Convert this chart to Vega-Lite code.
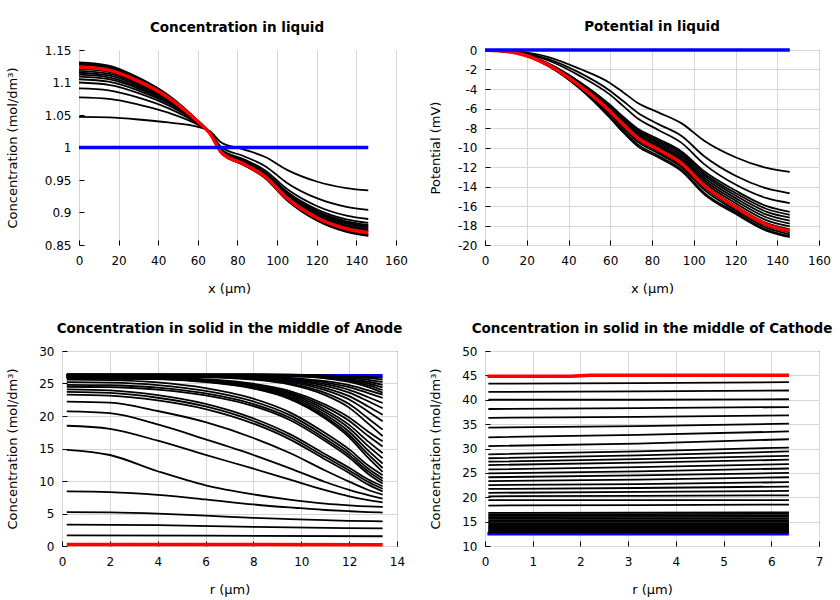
{
"$schema": "https://vega.github.io/schema/vega-lite/v6.json",
"padding": {"top": 19, "left": 6, "right": 5, "bottom": 5},
"background": "white",
"config": {
 "font": "DejaVu Sans",
 "view": {"stroke": "black", "strokeWidth": 1},
 "axis": {"domain": false, "grid": true, "gridColor": "#d6d6d6", "gridWidth": 1, "labelFont": "DejaVu Sans", "labelFontSize": 12, "labelColor": "black", "titleFont": "DejaVu Sans", "titleFontSize": 13, "titleFontWeight": "normal", "titleColor": "black", "tickColor": "black", "tickSize": -5, "tickWidth": 1, "labelPadding": 13, "labelFlush": false, "labelOverlap": false},
 "axisX": {"titlePadding": 16, "labelPadding": 15},
 "title": {"font": "DejaVu Sans", "fontSize": 13.5, "fontWeight": "bold", "color": "black", "offset": 10}
},
"datasets": {
"liq": [
{"c":1,"x":0,"y":1.047},{"c":1,"x":15,"y":1.0462},{"c":1,"x":30,"y":1.0431},{"c":1,"x":45,"y":1.0385},{"c":1,"x":60,"y":1.0318},{"c":1,"x":66,"y":1.0252},{"c":1,"x":72,"y":1.0073},{"c":1,"x":83,"y":0.9972},{"c":1,"x":94,"y":0.9853},{"c":1,"x":105,"y":0.9656},{"c":1,"x":120,"y":0.9477},{"c":1,"x":135,"y":0.9376},{"c":1,"x":146,"y":0.934},
{"c":2,"x":0,"y":1.077},{"c":2,"x":15,"y":1.0747},{"c":2,"x":30,"y":1.0661},{"c":2,"x":45,"y":1.0536},{"c":2,"x":60,"y":1.035},{"c":2,"x":66,"y":1.0237},{"c":2,"x":72,"y":1.0003},{"c":2,"x":83,"y":0.9869},{"c":2,"x":94,"y":0.9713},{"c":2,"x":105,"y":0.9455},{"c":2,"x":120,"y":0.922},{"c":2,"x":135,"y":0.9087},{"c":2,"x":146,"y":0.904},
{"c":3,"x":0,"y":1.091},{"c":3,"x":15,"y":1.088},{"c":3,"x":30,"y":1.0768},{"c":3,"x":45,"y":1.0606},{"c":3,"x":60,"y":1.0365},{"c":3,"x":66,"y":1.023},{"c":3,"x":72,"y":0.997},{"c":3,"x":83,"y":0.9821},{"c":3,"x":94,"y":0.9648},{"c":3,"x":105,"y":0.9361},{"c":3,"x":120,"y":0.91},{"c":3,"x":135,"y":0.8952},{"c":3,"x":146,"y":0.89},
{"c":4,"x":0,"y":1.1},{"c":4,"x":15,"y":1.0965},{"c":4,"x":30,"y":1.0838},{"c":4,"x":45,"y":1.0651},{"c":4,"x":60,"y":1.0375},{"c":4,"x":66,"y":1.0227},{"c":4,"x":72,"y":0.9955},{"c":4,"x":83,"y":0.9801},{"c":4,"x":94,"y":0.962},{"c":4,"x":105,"y":0.932},{"c":4,"x":120,"y":0.9049},{"c":4,"x":135,"y":0.8894},{"c":4,"x":146,"y":0.884},
{"c":5,"x":0,"y":1.105},{"c":5,"x":15,"y":1.1013},{"c":5,"x":30,"y":1.0876},{"c":5,"x":45,"y":1.0677},{"c":5,"x":60,"y":1.038},{"c":5,"x":66,"y":1.0225},{"c":5,"x":72,"y":0.9948},{"c":5,"x":83,"y":0.979},{"c":5,"x":94,"y":0.9606},{"c":5,"x":105,"y":0.93},{"c":5,"x":120,"y":0.9023},{"c":5,"x":135,"y":0.8865},{"c":5,"x":146,"y":0.881},
{"c":6,"x":0,"y":1.109},{"c":6,"x":15,"y":1.1051},{"c":6,"x":30,"y":1.0907},{"c":6,"x":45,"y":1.0697},{"c":6,"x":60,"y":1.0385},{"c":6,"x":66,"y":1.0224},{"c":6,"x":72,"y":0.9944},{"c":6,"x":83,"y":0.9784},{"c":6,"x":94,"y":0.9596},{"c":6,"x":105,"y":0.9287},{"c":6,"x":120,"y":0.9006},{"c":6,"x":135,"y":0.8846},{"c":6,"x":146,"y":0.879},
{"c":7,"x":0,"y":1.112},{"c":7,"x":15,"y":1.1079},{"c":7,"x":30,"y":1.093},{"c":7,"x":45,"y":1.0712},{"c":7,"x":60,"y":1.0388},{"c":7,"x":66,"y":1.0224},{"c":7,"x":72,"y":0.9939},{"c":7,"x":83,"y":0.9777},{"c":7,"x":94,"y":0.9587},{"c":7,"x":105,"y":0.9273},{"c":7,"x":120,"y":0.8989},{"c":7,"x":135,"y":0.8827},{"c":7,"x":146,"y":0.877},
{"c":8,"x":0,"y":1.115},{"c":8,"x":15,"y":1.1108},{"c":8,"x":30,"y":1.0953},{"c":8,"x":45,"y":1.0727},{"c":8,"x":60,"y":1.0391},{"c":8,"x":66,"y":1.0223},{"c":8,"x":72,"y":0.9934},{"c":8,"x":83,"y":0.977},{"c":8,"x":94,"y":0.9578},{"c":8,"x":105,"y":0.926},{"c":8,"x":120,"y":0.8972},{"c":8,"x":135,"y":0.8807},{"c":8,"x":146,"y":0.875},
{"c":9,"x":0,"y":1.118},{"c":9,"x":15,"y":1.1136},{"c":9,"x":30,"y":1.0976},{"c":9,"x":45,"y":1.0742},{"c":9,"x":60,"y":1.0394},{"c":9,"x":66,"y":1.0222},{"c":9,"x":72,"y":0.9929},{"c":9,"x":83,"y":0.9763},{"c":9,"x":94,"y":0.9568},{"c":9,"x":105,"y":0.9247},{"c":9,"x":120,"y":0.8955},{"c":9,"x":135,"y":0.8788},{"c":9,"x":146,"y":0.873},
{"c":10,"x":0,"y":1.121},{"c":10,"x":15,"y":1.1165},{"c":10,"x":30,"y":1.0999},{"c":10,"x":45,"y":1.0757},{"c":10,"x":60,"y":1.0397},{"c":10,"x":66,"y":1.0221},{"c":10,"x":72,"y":0.9925},{"c":10,"x":83,"y":0.9756},{"c":10,"x":94,"y":0.9559},{"c":10,"x":105,"y":0.9233},{"c":10,"x":120,"y":0.8937},{"c":10,"x":135,"y":0.8769},{"c":10,"x":146,"y":0.871},
{"c":11,"x":0,"y":1.127},{"c":11,"x":15,"y":1.1222},{"c":11,"x":30,"y":1.1045},{"c":11,"x":45,"y":1.0787},{"c":11,"x":60,"y":1.0404},{"c":11,"x":66,"y":1.0219},{"c":11,"x":72,"y":0.9915},{"c":11,"x":83,"y":0.9743},{"c":11,"x":94,"y":0.954},{"c":11,"x":105,"y":0.9206},{"c":11,"x":120,"y":0.8903},{"c":11,"x":135,"y":0.873},{"c":11,"x":146,"y":0.867},
{"c":12,"x":0,"y":1.129},{"c":12,"x":15,"y":1.1241},{"c":12,"x":30,"y":1.106},{"c":12,"x":45,"y":1.0797},{"c":12,"x":60,"y":1.0406},{"c":12,"x":66,"y":1.0218},{"c":12,"x":72,"y":0.9911},{"c":12,"x":83,"y":0.9736},{"c":12,"x":94,"y":0.9531},{"c":12,"x":105,"y":0.9193},{"c":12,"x":120,"y":0.8886},{"c":12,"x":135,"y":0.8711},{"c":12,"x":146,"y":0.865},
{"c":13,"x":0,"y":1.131},{"c":13,"x":15,"y":1.126},{"c":13,"x":30,"y":1.1076},{"c":13,"x":45,"y":1.0807},{"c":13,"x":60,"y":1.0408},{"c":13,"x":66,"y":1.0217},{"c":13,"x":72,"y":0.9908},{"c":13,"x":83,"y":0.9732},{"c":13,"x":94,"y":0.9526},{"c":13,"x":105,"y":0.9186},{"c":13,"x":120,"y":0.8877},{"c":13,"x":135,"y":0.8701},{"c":13,"x":146,"y":0.864},
{"c":"r","x":0,"y":1.1237},{"c":"r","x":15,"y":1.119},{"c":"r","x":30,"y":1.102},{"c":"r","x":45,"y":1.077},{"c":"r","x":60,"y":1.04},{"c":"r","x":66,"y":1.022},{"c":"r","x":72,"y":0.992},{"c":"r","x":83,"y":0.975},{"c":"r","x":94,"y":0.955},{"c":"r","x":105,"y":0.922},{"c":"r","x":120,"y":0.892},{"c":"r","x":135,"y":0.875},{"c":"r","x":146,"y":0.869},
{"c":"b","x":0,"y":1},{"c":"b","x":146,"y":1}
],
"pot": [
{"c":1,"x":0,"y":0},{"c":1,"x":15,"y":-0.15},{"c":1,"x":30,"y":-0.7},{"c":1,"x":45,"y":-1.9},{"c":1,"x":60,"y":-3.4},{"c":1,"x":66,"y":-4.3},{"c":1,"x":73,"y":-5.4},{"c":1,"x":83,"y":-6.4},{"c":1,"x":94,"y":-7.5},{"c":1,"x":105,"y":-9.3},{"c":1,"x":120,"y":-11.0},{"c":1,"x":135,"y":-12.1},{"c":1,"x":146,"y":-12.5},
{"c":2,"x":0,"y":0},{"c":2,"x":15,"y":-0.2},{"c":2,"x":30,"y":-0.9},{"c":2,"x":45,"y":-2.3},{"c":2,"x":60,"y":-4.2},{"c":2,"x":66,"y":-5.2},{"c":2,"x":73,"y":-6.4},{"c":2,"x":83,"y":-7.6},{"c":2,"x":94,"y":-8.8},{"c":2,"x":105,"y":-10.9},{"c":2,"x":120,"y":-12.9},{"c":2,"x":135,"y":-14.2},{"c":2,"x":146,"y":-14.7},
{"c":3,"x":0,"y":0},{"c":3,"x":15,"y":-0.22},{"c":3,"x":30,"y":-1.05},{"c":3,"x":45,"y":-2.6},{"c":3,"x":60,"y":-4.6},{"c":3,"x":66,"y":-5.7},{"c":3,"x":73,"y":-7.0},{"c":3,"x":83,"y":-8.2},{"c":3,"x":94,"y":-9.5},{"c":3,"x":105,"y":-11.7},{"c":3,"x":120,"y":-13.8},{"c":3,"x":135,"y":-15.2},{"c":3,"x":146,"y":-15.7},
{"c":4,"x":0,"y":0},{"c":4,"x":15,"y":-0.27},{"c":4,"x":30,"y":-1.34},{"c":4,"x":45,"y":-3.22},{"c":4,"x":60,"y":-5.64},{"c":4,"x":66,"y":-6.81},{"c":4,"x":73,"y":-8.05},{"c":4,"x":83,"y":-9.13},{"c":4,"x":94,"y":-10.38},{"c":4,"x":105,"y":-12.43},{"c":4,"x":120,"y":-14.41},{"c":4,"x":135,"y":-16.02},{"c":4,"x":146,"y":-16.6},
{"c":5,"x":0,"y":0},{"c":5,"x":15,"y":-0.27},{"c":5,"x":30,"y":-1.37},{"c":5,"x":45,"y":-3.28},{"c":5,"x":60,"y":-5.75},{"c":5,"x":66,"y":-6.93},{"c":5,"x":73,"y":-8.2},{"c":5,"x":83,"y":-9.3},{"c":5,"x":94,"y":-10.56},{"c":5,"x":105,"y":-12.66},{"c":5,"x":120,"y":-14.67},{"c":5,"x":135,"y":-16.31},{"c":5,"x":146,"y":-16.9},
{"c":6,"x":0,"y":0},{"c":6,"x":15,"y":-0.28},{"c":6,"x":30,"y":-1.39},{"c":6,"x":45,"y":-3.34},{"c":6,"x":60,"y":-5.85},{"c":6,"x":66,"y":-7.05},{"c":6,"x":73,"y":-8.34},{"c":6,"x":83,"y":-9.46},{"c":6,"x":94,"y":-10.75},{"c":6,"x":105,"y":-12.88},{"c":6,"x":120,"y":-14.93},{"c":6,"x":135,"y":-16.6},{"c":6,"x":146,"y":-17.2},
{"c":7,"x":0,"y":0},{"c":7,"x":15,"y":-0.28},{"c":7,"x":30,"y":-1.42},{"c":7,"x":45,"y":-3.4},{"c":7,"x":60,"y":-5.95},{"c":7,"x":66,"y":-7.18},{"c":7,"x":73,"y":-8.49},{"c":7,"x":83,"y":-9.63},{"c":7,"x":94,"y":-10.94},{"c":7,"x":105,"y":-13.11},{"c":7,"x":120,"y":-15.19},{"c":7,"x":135,"y":-16.89},{"c":7,"x":146,"y":-17.5},
{"c":8,"x":0,"y":0},{"c":8,"x":15,"y":-0.28},{"c":8,"x":30,"y":-1.44},{"c":8,"x":45,"y":-3.45},{"c":8,"x":60,"y":-6.05},{"c":8,"x":66,"y":-7.3},{"c":8,"x":73,"y":-8.63},{"c":8,"x":83,"y":-9.79},{"c":8,"x":94,"y":-11.13},{"c":8,"x":105,"y":-13.33},{"c":8,"x":120,"y":-15.45},{"c":8,"x":135,"y":-17.18},{"c":8,"x":146,"y":-17.8},
{"c":9,"x":0,"y":0},{"c":9,"x":15,"y":-0.29},{"c":9,"x":30,"y":-1.47},{"c":9,"x":45,"y":-3.51},{"c":9,"x":60,"y":-6.15},{"c":9,"x":66,"y":-7.42},{"c":9,"x":73,"y":-8.78},{"c":9,"x":83,"y":-9.96},{"c":9,"x":94,"y":-11.31},{"c":9,"x":105,"y":-13.56},{"c":9,"x":120,"y":-15.71},{"c":9,"x":135,"y":-17.47},{"c":9,"x":146,"y":-18.1},
{"c":10,"x":0,"y":0},{"c":10,"x":15,"y":-0.29},{"c":10,"x":30,"y":-1.49},{"c":10,"x":45,"y":-3.57},{"c":10,"x":60,"y":-6.26},{"c":10,"x":66,"y":-7.54},{"c":10,"x":73,"y":-8.92},{"c":10,"x":83,"y":-10.12},{"c":10,"x":94,"y":-11.5},{"c":10,"x":105,"y":-13.78},{"c":10,"x":120,"y":-15.97},{"c":10,"x":135,"y":-17.76},{"c":10,"x":146,"y":-18.4},
{"c":11,"x":0,"y":0},{"c":11,"x":15,"y":-0.3},{"c":11,"x":30,"y":-1.52},{"c":11,"x":45,"y":-3.68},{"c":11,"x":60,"y":-6.45},{"c":11,"x":66,"y":-7.75},{"c":11,"x":73,"y":-9.2},{"c":11,"x":83,"y":-10.4},{"c":11,"x":94,"y":-11.8},{"c":11,"x":105,"y":-14.1},{"c":11,"x":120,"y":-16.25},{"c":11,"x":135,"y":-18.05},{"c":11,"x":146,"y":-18.7},
{"c":12,"x":0,"y":0},{"c":12,"x":15,"y":-0.3},{"c":12,"x":30,"y":-1.55},{"c":12,"x":45,"y":-3.75},{"c":12,"x":60,"y":-6.6},{"c":12,"x":66,"y":-7.95},{"c":12,"x":73,"y":-9.4},{"c":12,"x":83,"y":-10.6},{"c":12,"x":94,"y":-12.0},{"c":12,"x":105,"y":-14.35},{"c":12,"x":120,"y":-16.45},{"c":12,"x":135,"y":-18.25},{"c":12,"x":146,"y":-18.9},
{"c":13,"x":0,"y":0},{"c":13,"x":15,"y":-0.31},{"c":13,"x":30,"y":-1.58},{"c":13,"x":45,"y":-3.82},{"c":13,"x":60,"y":-6.85},{"c":13,"x":66,"y":-8.2},{"c":13,"x":73,"y":-9.65},{"c":13,"x":83,"y":-10.85},{"c":13,"x":94,"y":-12.25},{"c":13,"x":105,"y":-14.65},{"c":13,"x":120,"y":-16.65},{"c":13,"x":135,"y":-18.45},{"c":13,"x":146,"y":-19.1},
{"c":14,"x":0,"y":0},{"c":14,"x":15,"y":-0.31},{"c":14,"x":30,"y":-1.6},{"c":14,"x":45,"y":-3.88},{"c":14,"x":60,"y":-7.0},{"c":14,"x":66,"y":-8.4},{"c":14,"x":73,"y":-9.85},{"c":14,"x":83,"y":-11.0},{"c":14,"x":94,"y":-12.4},{"c":14,"x":105,"y":-14.8},{"c":14,"x":120,"y":-16.8},{"c":14,"x":135,"y":-18.55},{"c":14,"x":146,"y":-19.2},
{"c":"r","x":0,"y":0},{"c":"r","x":15,"y":-0.3},{"c":"r","x":30,"y":-1.5},{"c":"r","x":45,"y":-3.6},{"c":"r","x":60,"y":-6.3},{"c":"r","x":66,"y":-7.6},{"c":"r","x":73,"y":-9.0},{"c":"r","x":83,"y":-10.2},{"c":"r","x":94,"y":-11.6},{"c":"r","x":105,"y":-13.9},{"c":"r","x":120,"y":-16.1},{"c":"r","x":135,"y":-17.9},{"c":"r","x":146,"y":-18.55},
{"c":"b","x":0,"y":0},{"c":"b","x":146,"y":0}
],
"ano": [
{"c":1,"x":0.2,"y":1.65},{"c":1,"x":6,"y":1.59},{"c":1,"x":13.4,"y":1.5},
{"c":2,"x":0.2,"y":3.3},{"c":2,"x":4,"y":3.2},{"c":2,"x":8,"y":2.93},{"c":2,"x":13.4,"y":2.7},
{"c":3,"x":0.2,"y":5.2},{"c":3,"x":2,"y":5.16},{"c":3,"x":4,"y":4.98},{"c":3,"x":6,"y":4.67},{"c":3,"x":8,"y":4.33},{"c":3,"x":9.5,"y":4.14},{"c":3,"x":11,"y":3.97},{"c":3,"x":12,"y":3.88},{"c":3,"x":13.4,"y":3.8},
{"c":4,"x":0.2,"y":8.4},{"c":4,"x":2,"y":8.3},{"c":4,"x":4,"y":7.88},{"c":4,"x":6,"y":7.17},{"c":4,"x":8,"y":6.39},{"c":4,"x":9.5,"y":5.93},{"c":4,"x":11,"y":5.54},{"c":4,"x":12,"y":5.35},{"c":4,"x":12.8,"y":5.22},{"c":4,"x":13.4,"y":5.15},
{"c":5,"x":0.2,"y":14.8},{"c":5,"x":2,"y":14.0},{"c":5,"x":4,"y":11.5},{"c":5,"x":6,"y":9.34},{"c":5,"x":8,"y":7.94},{"c":5,"x":9.5,"y":7.14},{"c":5,"x":11,"y":6.53},{"c":5,"x":12,"y":6.26},{"c":5,"x":12.8,"y":6.09},{"c":5,"x":13.4,"y":6.0},
{"c":6,"x":0.2,"y":18.5},{"c":6,"x":2,"y":18.03},{"c":6,"x":4,"y":16.2},{"c":6,"x":6,"y":14.02},{"c":6,"x":8,"y":11.89},{"c":6,"x":9.5,"y":10.24},{"c":6,"x":11,"y":8.59},{"c":6,"x":12,"y":7.64},{"c":6,"x":12.8,"y":7.05},{"c":6,"x":13.4,"y":6.7},
{"c":7,"x":0.2,"y":20.7},{"c":7,"x":2,"y":20.43},{"c":7,"x":4,"y":18.7},{"c":7,"x":6,"y":16.41},{"c":7,"x":8,"y":14.0},{"c":7,"x":9.5,"y":11.99},{"c":7,"x":11,"y":9.85},{"c":7,"x":12,"y":8.64},{"c":7,"x":12.8,"y":7.84},{"c":7,"x":13.4,"y":7.3},
{"c":8,"x":0.2,"y":22.2},{"c":8,"x":2,"y":22.06},{"c":8,"x":4,"y":20.77},{"c":8,"x":6,"y":19.05},{"c":8,"x":8,"y":16.62},{"c":8,"x":9.5,"y":14.34},{"c":8,"x":11,"y":11.62},{"c":8,"x":12,"y":9.9},{"c":8,"x":12.8,"y":8.62},{"c":8,"x":13.4,"y":7.9},
{"c":9,"x":0.2,"y":23.3},{"c":9,"x":2,"y":23.15},{"c":9,"x":4,"y":22.41},{"c":9,"x":6,"y":21.07},{"c":9,"x":8,"y":18.83},{"c":9,"x":9.5,"y":16.45},{"c":9,"x":11,"y":13.32},{"c":9,"x":12,"y":11.23},{"c":9,"x":12.8,"y":9.44},{"c":9,"x":13.4,"y":8.4},
{"c":10,"x":0.2,"y":23.7},{"c":10,"x":2,"y":23.55},{"c":10,"x":4,"y":22.81},{"c":10,"x":6,"y":21.47},{"c":10,"x":8,"y":19.23},{"c":10,"x":9.5,"y":16.85},{"c":10,"x":11,"y":13.72},{"c":10,"x":12,"y":11.63},{"c":10,"x":12.8,"y":9.84},{"c":10,"x":13.4,"y":8.8},
{"c":11,"x":0.2,"y":24.1},{"c":11,"x":2,"y":23.95},{"c":11,"x":4,"y":23.21},{"c":11,"x":6,"y":21.87},{"c":11,"x":8,"y":19.63},{"c":11,"x":9.5,"y":17.25},{"c":11,"x":11,"y":14.12},{"c":11,"x":12,"y":12.03},{"c":11,"x":12.8,"y":10.24},{"c":11,"x":13.4,"y":9.2},
{"c":12,"x":0.2,"y":24.5},{"c":12,"x":2,"y":24.43},{"c":12,"x":4,"y":24.05},{"c":12,"x":6,"y":23.16},{"c":12,"x":8,"y":21.52},{"c":12,"x":9.5,"y":19.43},{"c":12,"x":11,"y":16.16},{"c":12,"x":12,"y":13.62},{"c":12,"x":12.8,"y":11.09},{"c":12,"x":13.4,"y":9.6},
{"c":13,"x":0.2,"y":24.8},{"c":13,"x":2,"y":24.73},{"c":13,"x":4,"y":24.36},{"c":13,"x":6,"y":23.47},{"c":13,"x":8,"y":21.84},{"c":13,"x":9.5,"y":19.77},{"c":13,"x":11,"y":16.51},{"c":13,"x":12,"y":14.0},{"c":13,"x":12.8,"y":11.48},{"c":13,"x":13.4,"y":10.0},
{"c":14,"x":0.2,"y":25.2},{"c":14,"x":2,"y":25.13},{"c":14,"x":4,"y":24.76},{"c":14,"x":6,"y":23.87},{"c":14,"x":8,"y":22.24},{"c":14,"x":9.5,"y":20.17},{"c":14,"x":11,"y":16.91},{"c":14,"x":12,"y":14.4},{"c":14,"x":12.8,"y":11.88},{"c":14,"x":13.4,"y":10.4},
{"c":15,"x":0.2,"y":25.6},{"c":15,"x":2,"y":25.53},{"c":15,"x":4,"y":25.16},{"c":15,"x":6,"y":24.28},{"c":15,"x":8,"y":22.66},{"c":15,"x":9.5,"y":20.6},{"c":15,"x":11,"y":17.37},{"c":15,"x":12,"y":14.87},{"c":15,"x":12.8,"y":12.37},{"c":15,"x":13.4,"y":10.9},
{"c":16,"x":0.2,"y":25.8},{"c":16,"x":4,"y":25.66},{"c":16,"x":6,"y":25.22},{"c":16,"x":8,"y":24.22},{"c":16,"x":9.5,"y":22.63},{"c":16,"x":11,"y":19.61},{"c":16,"x":12,"y":16.73},{"c":16,"x":12.8,"y":13.56},{"c":16,"x":13.4,"y":11.4},
{"c":17,"x":0.2,"y":25.85},{"c":17,"x":4,"y":25.71},{"c":17,"x":6,"y":25.3},{"c":17,"x":8,"y":24.33},{"c":17,"x":9.5,"y":22.8},{"c":17,"x":11,"y":19.89},{"c":17,"x":12,"y":17.12},{"c":17,"x":12.8,"y":14.08},{"c":17,"x":13.4,"y":12.0},
{"c":18,"x":0.2,"y":25.9},{"c":18,"x":4,"y":25.77},{"c":18,"x":6,"y":25.37},{"c":18,"x":8,"y":24.45},{"c":18,"x":9.5,"y":23.0},{"c":18,"x":11,"y":20.22},{"c":18,"x":12,"y":17.58},{"c":18,"x":12.8,"y":14.68},{"c":18,"x":13.4,"y":12.7},
{"c":19,"x":0.2,"y":25.95},{"c":19,"x":4,"y":25.83},{"c":19,"x":6,"y":25.45},{"c":19,"x":8,"y":24.58},{"c":19,"x":9.5,"y":23.21},{"c":19,"x":11,"y":20.6},{"c":19,"x":12,"y":18.11},{"c":19,"x":12.8,"y":15.37},{"c":19,"x":13.4,"y":13.5},
{"c":20,"x":0.2,"y":26.0},{"c":20,"x":4,"y":25.88},{"c":20,"x":6,"y":25.53},{"c":20,"x":8,"y":24.71},{"c":20,"x":9.5,"y":23.43},{"c":20,"x":11,"y":20.97},{"c":20,"x":12,"y":18.63},{"c":20,"x":12.8,"y":16.06},{"c":20,"x":13.4,"y":14.3},
{"c":21,"x":0.2,"y":26.02},{"c":21,"x":4,"y":25.9},{"c":21,"x":6,"y":25.57},{"c":21,"x":8,"y":24.82},{"c":21,"x":9.5,"y":23.65},{"c":21,"x":11,"y":21.4},{"c":21,"x":12,"y":19.26},{"c":21,"x":12.8,"y":16.91},{"c":21,"x":13.4,"y":15.3},
{"c":22,"x":0.2,"y":26.05},{"c":22,"x":4,"y":25.95},{"c":22,"x":6,"y":25.65},{"c":22,"x":8,"y":24.96},{"c":22,"x":9.5,"y":23.86},{"c":22,"x":11,"y":21.77},{"c":22,"x":12,"y":19.78},{"c":22,"x":12.8,"y":17.59},{"c":22,"x":13.4,"y":16.1},
{"c":23,"x":0.2,"y":26.07},{"c":23,"x":6,"y":25.96},{"c":23,"x":8,"y":25.59},{"c":23,"x":9.5,"y":24.86},{"c":23,"x":11,"y":23.21},{"c":23,"x":12,"y":21.29},{"c":23,"x":12.8,"y":18.82},{"c":23,"x":13.4,"y":16.9},
{"c":24,"x":0.2,"y":26.1},{"c":24,"x":6,"y":26.02},{"c":24,"x":8,"y":25.69},{"c":24,"x":9.5,"y":25.03},{"c":24,"x":11,"y":23.56},{"c":24,"x":12,"y":21.84},{"c":24,"x":12.8,"y":19.62},{"c":24,"x":13.4,"y":17.9},
{"c":25,"x":0.2,"y":26.12},{"c":25,"x":6,"y":26.05},{"c":25,"x":8,"y":25.78},{"c":25,"x":9.5,"y":25.22},{"c":25,"x":11,"y":23.98},{"c":25,"x":12,"y":22.53},{"c":25,"x":12.8,"y":20.67},{"c":25,"x":13.4,"y":19.2},
{"c":26,"x":0.2,"y":26.15},{"c":26,"x":6,"y":26.09},{"c":26,"x":8,"y":25.85},{"c":26,"x":9.5,"y":25.37},{"c":26,"x":11,"y":24.3},{"c":26,"x":12,"y":23.06},{"c":26,"x":12.8,"y":21.46},{"c":26,"x":13.4,"y":20.2},
{"c":27,"x":0.2,"y":26.18},{"c":27,"x":6,"y":26.13},{"c":27,"x":8,"y":25.93},{"c":27,"x":9.5,"y":25.54},{"c":27,"x":11,"y":24.65},{"c":27,"x":12,"y":23.6},{"c":27,"x":12.8,"y":22.26},{"c":27,"x":13.4,"y":21.2},
{"c":28,"x":0.2,"y":26.21},{"c":28,"x":6,"y":26.17},{"c":28,"x":8,"y":26.0},{"c":28,"x":9.5,"y":25.67},{"c":28,"x":11,"y":24.9},{"c":28,"x":12,"y":24.02},{"c":28,"x":12.8,"y":22.89},{"c":28,"x":13.4,"y":22.0},
{"c":29,"x":0.2,"y":26.24},{"c":29,"x":6,"y":26.21},{"c":29,"x":8,"y":26.06},{"c":29,"x":9.5,"y":25.78},{"c":29,"x":11,"y":25.16},{"c":29,"x":12,"y":24.45},{"c":29,"x":12.8,"y":23.53},{"c":29,"x":13.4,"y":22.8},
{"c":30,"x":0.2,"y":26.27},{"c":30,"x":6,"y":26.24},{"c":30,"x":8,"y":26.12},{"c":30,"x":9.5,"y":25.88},{"c":30,"x":11,"y":25.36},{"c":30,"x":12,"y":24.74},{"c":30,"x":12.8,"y":23.94},{"c":30,"x":13.4,"y":23.3},
{"c":31,"x":0.2,"y":26.3},{"c":31,"x":8,"y":26.27},{"c":31,"x":9.5,"y":26.16},{"c":31,"x":11,"y":25.79},{"c":31,"x":12,"y":25.25},{"c":31,"x":12.8,"y":24.45},{"c":31,"x":13.4,"y":23.6},
{"c":32,"x":0.2,"y":26.32},{"c":32,"x":8,"y":26.3},{"c":32,"x":9.5,"y":26.2},{"c":32,"x":11,"y":25.87},{"c":32,"x":12,"y":25.41},{"c":32,"x":12.8,"y":24.72},{"c":32,"x":13.4,"y":24.0},
{"c":33,"x":0.2,"y":26.34},{"c":33,"x":8,"y":26.32},{"c":33,"x":9.5,"y":26.24},{"c":33,"x":11,"y":25.96},{"c":33,"x":12,"y":25.57},{"c":33,"x":12.8,"y":25.0},{"c":33,"x":13.4,"y":24.4},
{"c":34,"x":0.2,"y":26.36},{"c":34,"x":8,"y":26.35},{"c":34,"x":9.5,"y":26.28},{"c":34,"x":11,"y":26.05},{"c":34,"x":12,"y":25.72},{"c":34,"x":12.8,"y":25.27},{"c":34,"x":13.4,"y":24.8},
{"c":35,"x":0.2,"y":26.38},{"c":35,"x":8,"y":26.37},{"c":35,"x":9.5,"y":26.31},{"c":35,"x":11,"y":26.12},{"c":35,"x":12,"y":25.87},{"c":35,"x":12.8,"y":25.55},{"c":35,"x":13.4,"y":25.2},
{"c":36,"x":0.2,"y":26.4},{"c":36,"x":8,"y":26.39},{"c":36,"x":9.5,"y":26.35},{"c":36,"x":11,"y":26.2},{"c":36,"x":12,"y":26.02},{"c":36,"x":12.8,"y":25.82},{"c":36,"x":13.4,"y":25.6},
{"c":37,"x":0.2,"y":26.42},{"c":37,"x":8,"y":26.41},{"c":37,"x":9.5,"y":26.38},{"c":37,"x":11,"y":26.25},{"c":37,"x":12,"y":26.14},{"c":37,"x":12.8,"y":26.02},{"c":37,"x":13.4,"y":25.9},
{"c":"r","x":0.2,"y":0.25},{"c":"r","x":13.4,"y":0.2},
{"c":"b","x":0.2,"y":26.2},{"c":"b","x":13.4,"y":26.2}
],
"cat": [
{"c":1,"x":0.07,"y":43.3},{"c":1,"x":3.2,"y":43.4},{"c":1,"x":6.37,"y":43.6},
{"c":2,"x":0.07,"y":41.6},{"c":2,"x":3.2,"y":41.7},{"c":2,"x":6.37,"y":41.9},
{"c":3,"x":0.07,"y":40.0},{"c":3,"x":3.2,"y":40.0},{"c":3,"x":6.37,"y":40.1},
{"c":4,"x":0.07,"y":38.1},{"c":4,"x":3.2,"y":38.3},{"c":4,"x":6.37,"y":38.5},
{"c":5,"x":0.07,"y":36.3},{"c":5,"x":3.2,"y":36.5},{"c":5,"x":6.37,"y":36.8},
{"c":6,"x":0.07,"y":34.3},{"c":6,"x":3.2,"y":34.6},{"c":6,"x":6.37,"y":35.1},
{"c":7,"x":0.07,"y":32.3},{"c":7,"x":3.2,"y":32.8},{"c":7,"x":6.37,"y":33.5},
{"c":8,"x":0.07,"y":30.5},{"c":8,"x":3.2,"y":31.0},{"c":8,"x":6.37,"y":31.9},
{"c":9,"x":0.07,"y":28.8},{"c":9,"x":3.2,"y":29.4},{"c":9,"x":6.37,"y":30.2},
{"c":10,"x":0.07,"y":28.0},{"c":10,"x":3.2,"y":28.6},{"c":10,"x":6.37,"y":29.4},
{"c":11,"x":0.07,"y":27.3},{"c":11,"x":3.2,"y":27.8},{"c":11,"x":6.37,"y":28.5},
{"c":12,"x":0.07,"y":26.6},{"c":12,"x":3.2,"y":27.1},{"c":12,"x":6.37,"y":27.7},
{"c":13,"x":0.07,"y":25.7},{"c":13,"x":3.2,"y":26.2},{"c":13,"x":6.37,"y":26.8},
{"c":14,"x":0.07,"y":24.9},{"c":14,"x":3.2,"y":25.3},{"c":14,"x":6.37,"y":25.9},
{"c":15,"x":0.07,"y":24.1},{"c":15,"x":3.2,"y":24.5},{"c":15,"x":6.37,"y":25.0},
{"c":16,"x":0.07,"y":23.3},{"c":16,"x":3.2,"y":23.6},{"c":16,"x":6.37,"y":24.1},
{"c":17,"x":0.07,"y":22.5},{"c":17,"x":3.2,"y":22.7},{"c":17,"x":6.37,"y":23.1},
{"c":18,"x":0.07,"y":21.7},{"c":18,"x":3.2,"y":21.9},{"c":18,"x":6.37,"y":22.2},
{"c":19,"x":0.07,"y":20.9},{"c":19,"x":3.2,"y":21.1},{"c":19,"x":6.37,"y":21.3},
{"c":20,"x":0.07,"y":20.2},{"c":20,"x":3.2,"y":20.3},{"c":20,"x":6.37,"y":20.4},
{"c":21,"x":0.07,"y":19.4},{"c":21,"x":3.2,"y":19.4},{"c":21,"x":6.37,"y":19.4},
{"c":22,"x":0.07,"y":18.3},{"c":22,"x":3.2,"y":18.4},{"c":22,"x":6.37,"y":18.5},
{"c":23,"x":0.07,"y":16.8},{"c":23,"x":6.37,"y":16.9},
{"c":24,"x":0.07,"y":16.5},{"c":24,"x":6.37,"y":16.6},
{"c":25,"x":0.07,"y":16.2},{"c":25,"x":6.37,"y":16.3},
{"c":26,"x":0.07,"y":15.9},{"c":26,"x":6.37,"y":16.0},
{"c":27,"x":0.07,"y":15.6},{"c":27,"x":6.37,"y":15.6},
{"c":28,"x":0.07,"y":15.3},{"c":28,"x":6.37,"y":15.3},
{"c":29,"x":0.07,"y":15.0},{"c":29,"x":6.37,"y":15.0},
{"c":30,"x":0.07,"y":14.7},{"c":30,"x":6.37,"y":14.7},
{"c":31,"x":0.07,"y":14.4},{"c":31,"x":6.37,"y":14.4},
{"c":32,"x":0.07,"y":14.1},{"c":32,"x":6.37,"y":14.1},
{"c":33,"x":0.07,"y":13.85},{"c":33,"x":6.37,"y":13.85},
{"c":34,"x":0.07,"y":13.6},{"c":34,"x":6.37,"y":13.6},
{"c":35,"x":0.07,"y":13.4},{"c":35,"x":6.37,"y":13.4},
{"c":36,"x":0.07,"y":13.2},{"c":36,"x":6.37,"y":13.2},
{"c":37,"x":0.07,"y":13.0},{"c":37,"x":6.37,"y":13.0},
{"c":38,"x":0.07,"y":12.8},{"c":38,"x":6.37,"y":12.8},
{"c":"r","x":0.05,"y":44.8},{"c":"r","x":1.8,"y":44.8},{"c":"r","x":2.2,"y":45.05},{"c":"r","x":6.37,"y":45.05},
{"c":"b","x":0.05,"y":12.5},{"c":"b","x":6.37,"y":12.5}
]
},
"columns": 2,
"spacing": {"row": 25, "column": 20},
"concat": [
 {"title": {"text": "Concentration in liquid", "dx": 8}, "width": 334, "height": 195, "view": {"stroke": null},
  "layer": [
   {"mark": {"type": "rule", "color": "#d6d6d6", "strokeWidth": 1}, "encoding": {"y": {"datum": 0.9, "type": "quantitative", "scale": {"domain": [0.85, 1.15], "nice": false, "zero": false}, "axis": {"title": "Concentration (mol/dm³)", "values": [0.85,0.9,0.95,1,1.05,1.1,1.15], "format": "~g", "titlePadding": 25, "grid": false, "offset": -17, "labelOverlap": false}}, "x": {"datum": 0, "type": "quantitative", "scale": {"domain": [-8.58, 160], "nice": false, "zero": false}, "axis": {"title": "x (µm)", "values": [0,20,40,60,80,100,120,140,160], "labelOverlap": false}}, "x2": {"datum": 160}}},
   {"mark": {"type": "rule", "color": "#d6d6d6", "strokeWidth": 1}, "encoding": {"y": {"datum": 0.95, "type": "quantitative", "axis": {"title": "Concentration (mol/dm³)", "values": [0.85,0.9,0.95,1,1.05,1.1,1.15], "format": "~g", "titlePadding": 25, "grid": false, "offset": -17, "labelOverlap": false}}, "x": {"datum": 0, "type": "quantitative", "axis": {"title": "x (µm)", "values": [0,20,40,60,80,100,120,140,160], "labelOverlap": false}}, "x2": {"datum": 160}}},
   {"mark": {"type": "rule", "color": "#d6d6d6", "strokeWidth": 1}, "encoding": {"y": {"datum": 1.0, "type": "quantitative", "axis": {"title": "Concentration (mol/dm³)", "values": [0.85,0.9,0.95,1,1.05,1.1,1.15], "format": "~g", "titlePadding": 25, "grid": false, "offset": -17, "labelOverlap": false}}, "x": {"datum": 0, "type": "quantitative", "axis": {"title": "x (µm)", "values": [0,20,40,60,80,100,120,140,160], "labelOverlap": false}}, "x2": {"datum": 160}}},
   {"mark": {"type": "rule", "color": "#d6d6d6", "strokeWidth": 1}, "encoding": {"y": {"datum": 1.05, "type": "quantitative", "axis": {"title": "Concentration (mol/dm³)", "values": [0.85,0.9,0.95,1,1.05,1.1,1.15], "format": "~g", "titlePadding": 25, "grid": false, "offset": -17, "labelOverlap": false}}, "x": {"datum": 0, "type": "quantitative", "axis": {"title": "x (µm)", "values": [0,20,40,60,80,100,120,140,160], "labelOverlap": false}}, "x2": {"datum": 160}}},
   {"mark": {"type": "rule", "color": "#d6d6d6", "strokeWidth": 1}, "encoding": {"y": {"datum": 1.1, "type": "quantitative", "axis": {"title": "Concentration (mol/dm³)", "values": [0.85,0.9,0.95,1,1.05,1.1,1.15], "format": "~g", "titlePadding": 25, "grid": false, "offset": -17, "labelOverlap": false}}, "x": {"datum": 0, "type": "quantitative", "axis": {"title": "x (µm)", "values": [0,20,40,60,80,100,120,140,160], "labelOverlap": false}}, "x2": {"datum": 160}}},
   {"data": {"name": "liq"}, "transform": [{"filter": "isNumber(datum.c)"}], "mark": {"type": "line", "color": "black", "strokeWidth": 1.8, "interpolate": "monotone", "clip": true},
    "encoding": {
     "x": {"field": "x", "type": "quantitative", "axis": {"title": "x (µm)", "values": [0,20,40,60,80,100,120,140,160], "labelOverlap": false}},
     "y": {"field": "y", "type": "quantitative", "axis": {"title": "Concentration (mol/dm³)", "values": [0.85,0.9,0.95,1,1.05,1.1,1.15], "format": "~g", "titlePadding": 25, "grid": false, "offset": -17, "labelOverlap": false}},
     "detail": {"field": "c"}}},
   {"data": {"name": "liq"}, "transform": [{"filter": "datum.c === 'r'"}], "mark": {"type": "line", "color": "#ff0000", "strokeWidth": 3.5, "interpolate": "monotone", "clip": true}, "encoding": {"x": {"field": "x", "type": "quantitative", "axis": {"title": "x (µm)", "values": [0,20,40,60,80,100,120,140,160], "labelOverlap": false}}, "y": {"field": "y", "type": "quantitative", "axis": {"title": "Concentration (mol/dm³)", "values": [0.85,0.9,0.95,1,1.05,1.1,1.15], "format": "~g", "titlePadding": 25, "grid": false, "offset": -17, "labelOverlap": false}}}},
   {"data": {"name": "liq"}, "transform": [{"filter": "datum.c === 'b'"}], "mark": {"type": "line", "color": "#0000ff", "strokeWidth": 3.5}, "encoding": {"x": {"field": "x", "type": "quantitative", "axis": {"title": "x (µm)", "values": [0,20,40,60,80,100,120,140,160], "labelOverlap": false}}, "y": {"field": "y", "type": "quantitative", "axis": {"title": "Concentration (mol/dm³)", "values": [0.85,0.9,0.95,1,1.05,1.1,1.15], "format": "~g", "titlePadding": 25, "grid": false, "offset": -17, "labelOverlap": false}}}},
   {"mark": {"type": "rule", "color": "black", "strokeWidth": 1}, "encoding": {"x": {"datum": 0, "type": "quantitative", "axis": {"title": "x (µm)", "values": [0,20,40,60,80,100,120,140,160], "labelOverlap": false}}}},
   {"mark": {"type": "rule", "color": "black", "strokeWidth": 1}, "encoding": {"x": {"datum": 160, "type": "quantitative", "axis": {"title": "x (µm)", "values": [0,20,40,60,80,100,120,140,160], "labelOverlap": false}}}},
   {"mark": {"type": "rule", "color": "black", "strokeWidth": 1}, "encoding": {"y": {"datum": 1.15, "type": "quantitative", "axis": {"title": "Concentration (mol/dm³)", "values": [0.85,0.9,0.95,1,1.05,1.1,1.15], "format": "~g", "titlePadding": 25, "grid": false, "offset": -17, "labelOverlap": false}}, "x": {"datum": 0, "type": "quantitative", "axis": {"title": "x (µm)", "values": [0,20,40,60,80,100,120,140,160], "labelOverlap": false}}, "x2": {"datum": 160}}},
   {"mark": {"type": "rule", "color": "black", "strokeWidth": 1}, "encoding": {"y": {"datum": 0.85, "type": "quantitative", "axis": {"title": "Concentration (mol/dm³)", "values": [0.85,0.9,0.95,1,1.05,1.1,1.15], "format": "~g", "titlePadding": 25, "grid": false, "offset": -17, "labelOverlap": false}}, "x": {"datum": 0, "type": "quantitative", "axis": {"title": "x (µm)", "values": [0,20,40,60,80,100,120,140,160], "labelOverlap": false}}, "x2": {"datum": 160}}}
  ]},
 {"data": {"name": "pot"}, "title": "Potential in liquid", "width": 334, "height": 195,
  "encoding": {
   "x": {"field": "x", "type": "quantitative", "scale": {"domain": [0, 160], "nice": false, "zero": false}, "axis": {"title": "x (µm)", "values": [0,20,40,60,80,100,120,140,160]}},
   "y": {"field": "y", "type": "quantitative", "scale": {"domain": [-20, 0], "nice": false, "zero": false}, "axis": {"title": "Potential (mV)", "values": [-20,-18,-16,-14,-12,-10,-8,-6,-4,-2,0], "labelExpr": "datum.value + ''", "titlePadding": 15}}},
  "layer": [
   {"transform": [{"filter": "isNumber(datum.c)"}], "mark": {"type": "line", "color": "black", "strokeWidth": 1.8, "interpolate": "monotone", "clip": true}, "encoding": {"detail": {"field": "c"}}},
   {"transform": [{"filter": "datum.c === 'r'"}], "mark": {"type": "line", "color": "#ff0000", "strokeWidth": 3.5, "interpolate": "monotone", "clip": true}, "encoding": {}},
   {"transform": [{"filter": "datum.c === 'b'"}], "mark": {"type": "line", "color": "#0000ff", "strokeWidth": 3.5}, "encoding": {}}
  ]},
 {"data": {"name": "ano"}, "title": "Concentration in solid in the middle of Anode", "width": 335, "height": 195,
  "encoding": {
   "x": {"field": "x", "type": "quantitative", "scale": {"domain": [0, 14], "nice": false, "zero": false}, "axis": {"title": "r (µm)", "values": [0,2,4,6,8,10,12,14]}},
   "y": {"field": "y", "type": "quantitative", "scale": {"domain": [0, 30], "nice": false, "zero": false}, "axis": {"title": "Concentration (mol/dm³)", "values": [0,5,10,15,20,25,30], "titlePadding": 19}}},
  "layer": [
   {"transform": [{"filter": "datum.c === 'b'"}], "mark": {"type": "line", "color": "#0000ff", "strokeWidth": 3.5}, "encoding": {}},
   {"transform": [{"filter": "isNumber(datum.c)"}], "mark": {"type": "line", "color": "black", "strokeWidth": 1.8, "interpolate": "monotone", "clip": true}, "encoding": {"detail": {"field": "c"}}},
   {"transform": [{"filter": "datum.c === 'r'"}], "mark": {"type": "line", "color": "#ff0000", "strokeWidth": 3.5}, "encoding": {}}
  ]},
 {"data": {"name": "cat"}, "title": "Concentration in solid in the middle of Cathode", "width": 334, "height": 195,
  "encoding": {
   "x": {"field": "x", "type": "quantitative", "scale": {"domain": [0, 7], "nice": false, "zero": false}, "axis": {"title": "r (µm)", "values": [0,1,2,3,4,5,6,7]}},
   "y": {"field": "y", "type": "quantitative", "scale": {"domain": [10, 50], "nice": false, "zero": false}, "axis": {"title": "Concentration (mol/dm³)", "values": [10,15,20,25,30,35,40,45,50], "titlePadding": 19}}},
  "layer": [
   {"transform": [{"filter": "datum.c === 'b'"}], "mark": {"type": "line", "color": "#0000ff", "strokeWidth": 3.5}, "encoding": {}},
   {"transform": [{"filter": "isNumber(datum.c)"}], "mark": {"type": "line", "color": "black", "strokeWidth": 1.8}, "encoding": {"detail": {"field": "c"}}},
   {"transform": [{"filter": "datum.c === 'r'"}], "mark": {"type": "line", "color": "#ff0000", "strokeWidth": 3.5}, "encoding": {}}
  ]}
]
}
